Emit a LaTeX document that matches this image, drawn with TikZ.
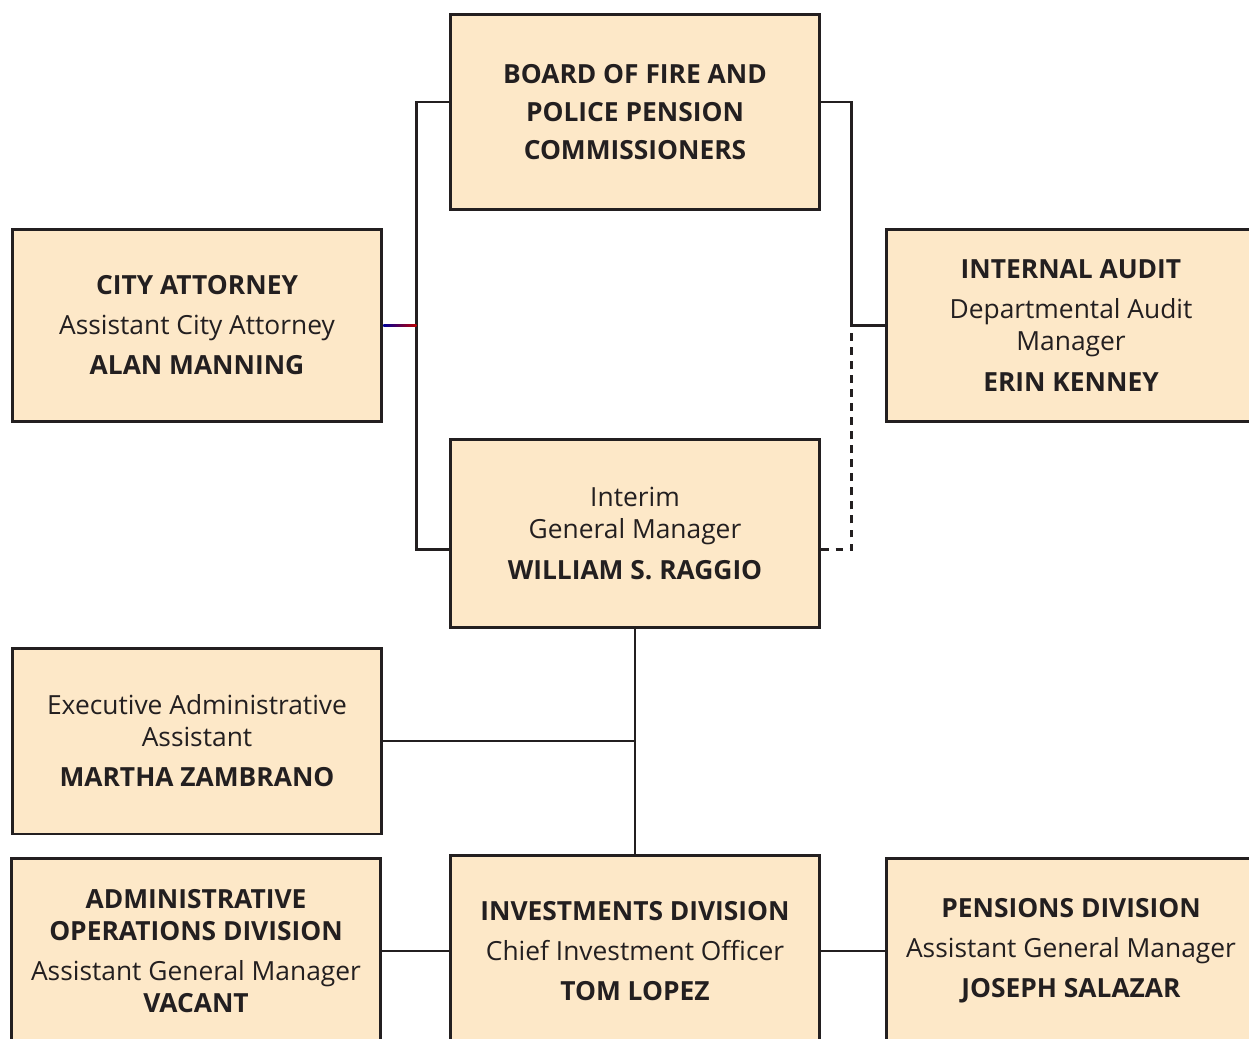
\documentclass[tikz,border=0pt]{standalone}
\usepackage{fontspec}
\setmainfont{Open Sans}
\usetikzlibrary{calc}
\definecolor{boxfill}{HTML}{FDE8C8}
\definecolor{ink}{HTML}{231F20}
\begin{document}
\begin{tikzpicture}[
    x=0.02cm, y=-0.02cm,
    orgbox/.style={draw=ink, line width=1.7pt, fill=boxfill, align=center,
      inner sep=0pt, minimum width=7.4cm, text=ink,
      font=\fontsize{15pt}{18.2pt}\selectfont},
    link/.style={draw=ink, line width=1.4pt}
]
\useasboundingbox (0,0) rectangle (1249,1039);

% top level
\node[orgbox, minimum height=3.92cm, font=\fontsize{15pt}{21.6pt}\selectfont\bfseries] (board) at (635,112)
  {BOARD OF FIRE AND\\POLICE PENSION\\COMMISSIONERS};
\node[orgbox, minimum height=3.86cm] (attorney) at (197,325.5)
  {\textbf{CITY ATTORNEY}\\[4.6pt]Assistant City Attorney\\[4.6pt]\textbf{ALAN MANNING}};
\node[orgbox, minimum height=3.86cm] (audit) at (1071,325.5)
  {\textbf{INTERNAL AUDIT}\\[4.6pt]Departmental Audit\\Manager\\[4.6pt]\textbf{ERIN KENNEY}};

% general manager
\node[orgbox, minimum height=3.78cm] (gm) at (635,533.5)
  {Interim\\General Manager\\[4.6pt]\textbf{WILLIAM S. RAGGIO}};
\node[orgbox, minimum height=3.72cm] (assistant) at (197,741)
  {Executive Administrative\\Assistant\\[4.6pt]\textbf{MARTHA ZAMBRANO}};

% divisions
\node[orgbox, minimum height=3.72cm] (adminops) at (196,951)
  {\textbf{ADMINISTRATIVE}\\\textbf{OPERATIONS DIVISION}\\[4.6pt]Assistant General Manager\\\textbf{VACANT}};
\node[orgbox, minimum height=3.84cm] (invest) at (635,951)
  {\textbf{INVESTMENTS DIVISION}\\[4.6pt]Chief Investment Officer\\[4.6pt]\textbf{TOM LOPEZ}};
\node[orgbox, minimum height=3.72cm] (pensions) at (1071,951)
  {\textbf{PENSIONS DIVISION}\\[4.6pt]Assistant General Manager\\[4.6pt]\textbf{JOSEPH SALAZAR}};

% connectors
\coordinate (lbus) at ($(attorney.east)+(33,0)$);
\coordinate (rbus) at ($(audit.west)+(-33,0)$);
\draw[link] ($(board.west)+(0,-10)$) -| (lbus) |- ($(gm.west)+(0,16)$);
\shade[left color=blue!60!black, right color=red!75!black]
  ($(attorney.east)+(0,-1.3)$) rectangle ($(lbus)+(0,1.3)$);
\draw[link] ($(board.east)+(0,-10)$) -| (rbus) -- (audit.west);
\draw[link, dash pattern=on 4.5pt off 3.5pt] ($(gm.east)+(0,16)$) -| (rbus);
\draw[link] (gm.south) -- (invest.north);
\draw[link] (assistant.east) -- (assistant.east -| gm.south);
\draw[link] (adminops.east) -- (invest.west);
\draw[link] (invest.east) -- (pensions.west);
\end{tikzpicture}
\end{document}
